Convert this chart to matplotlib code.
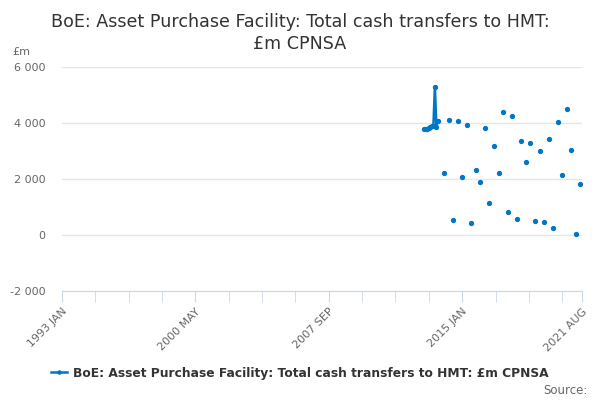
import numpy as np
import pandas as pd
import matplotlib
matplotlib.use('Agg')
from matplotlib import pyplot as plt
from matplotlib.ticker import FuncFormatter, FixedLocator

# monthly categories 1993 JAN .. 2021 AUG
months = pd.period_range('1993-01', '2021-08', freq='M')
labels = [p.strftime('%Y ') + p.strftime('%b').upper() for p in months]

# months with a transfer (others are blank)
obs_months = ['2012-12', '2013-01', '2013-02', '2013-03', '2013-04', '2013-05',
              '2013-06', '2013-07', '2013-08', '2013-09']
obs_values = [3780, 3780, 3790, 3830, 3870, 3880, 3880, 5300, 3870, 4080]

q_months = [str(p) for p in pd.period_range('2014-01', '2021-07', freq='3M')]
q_values = [2226, 4119, 536, 4060, 2060, 3917, 417, 2321, 1905, 3810,
            1155, 3167, 2214, 4405, 833, 4262, 571, 3357, 2595, 3286,
            488, 3012, 476, 3429, 262, 4024, 2143, 4500, 3036, 48, 1833]

series = pd.Series(np.nan, index=[str(p) for p in months])
series[obs_months] = obs_values
series[q_months] = q_values

blue = '#0076c6'
x = np.arange(len(months))

fig = plt.figure(figsize=(6, 4), dpi=100)
ax = fig.add_axes([0.103, 0.2725, 0.867, 0.56])
ax.plot(x, series.values, color=blue, lw=1.8, marker='o', ms=2.8, mec=blue)

ax.set_xlim(0, len(months) - 1)
ax.set_ylim(-2000, 6000)
ax.set_yticks([-2000, 0, 2000, 4000, 6000])
ax.yaxis.set_major_formatter(FuncFormatter(lambda v, p: '{:,.0f}'.format(v).replace(',', ' ')))
ax.grid(axis='y', color='#e6e6e6', lw=1)
ax.set_axisbelow(True)

major = [0, 88, 176, 264, len(months) - 1]
minor = [i for i in range(0, len(months), 22) if i not in major]
ax.xaxis.set_major_locator(FixedLocator(major))
ax.xaxis.set_minor_locator(FixedLocator(minor))
ax.set_xticklabels([labels[i] for i in major], rotation=45, ha='right', rotation_mode='anchor')
ax.tick_params(axis='x', which='both', length=8, color='#ccd6eb', labelcolor='#666666', labelsize=8, pad=3)
ax.tick_params(axis='y', length=0, labelcolor='#666666', labelsize=8, pad=12)

for s in ['top', 'right', 'left']:
    ax.spines[s].set_visible(False)
ax.spines['bottom'].set_color('#ccd6eb')

fig.text(0.5, 0.9175, 'BoE: Asset Purchase Facility: Total cash transfers to HMT:\n£m CPNSA',
         ha='center', va='center', fontsize=12.6, color='#333333', linespacing=1.3)
fig.text(0.02, 0.87, '£m', fontsize=8, color='#666666', va='center')

ax.legend(['BoE: Asset Purchase Facility: Total cash transfers to HMT: £m CPNSA'],
          loc='center', bbox_to_anchor=(0.5, 0.0675), bbox_transform=fig.transFigure,
          frameon=False, prop={'weight': 'bold', 'size': 8.8}, handlelength=1.3,
          handletextpad=0.5, labelcolor='#333333', markerscale=0.8)
fig.text(0.98, 0.025, 'Source:', ha='right', va='center', fontsize=8.5, color='#666666')

plt.savefig('out.png')
